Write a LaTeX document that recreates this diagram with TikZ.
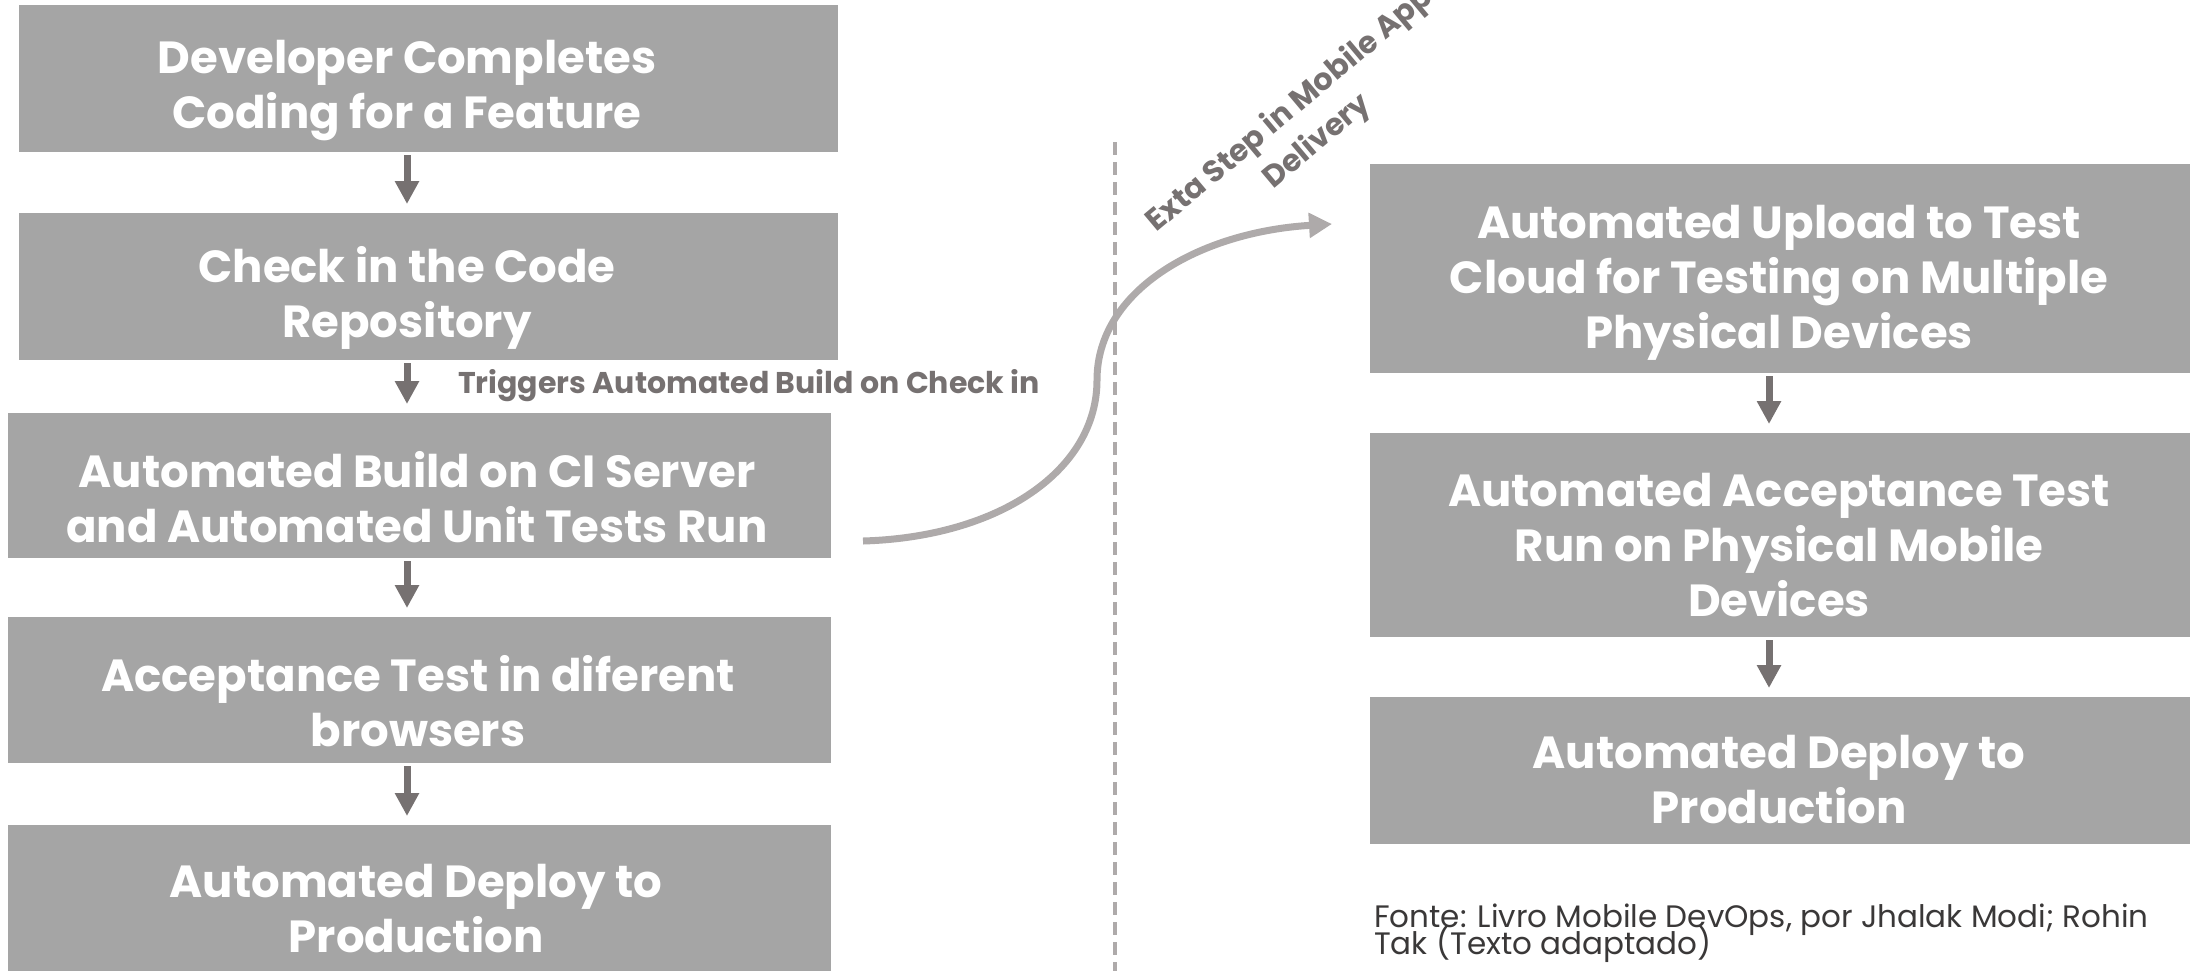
\documentclass[tikz,border=0pt]{standalone}
\usepackage{fontspec}
\setmainfont{Poppins}
\usetikzlibrary{arrows.meta}
\definecolor{boxgray}{HTML}{A5A5A5}
\definecolor{arrgray}{HTML}{767171}
\definecolor{curvegray}{HTML}{AEAAAA}
\definecolor{notegray}{HTML}{3A3838}
\setlength{\lineskiplimit}{-100pt}
\begin{document}
\begin{tikzpicture}[x=1pt,y=-1pt,
  boxshape/.style={fill=boxgray,draw=none,inner sep=0pt,outer sep=0pt,minimum width=#1},
  boxtext/.style={text=white,align=center,inner sep=0pt,
    font=\fontsize{45}{55}\selectfont\bfseries,
    execute at begin node=\strut, execute at end node=\strut},
  flowarrow/.style={draw=arrgray,line width=7pt,-{Triangle[width=23pt,length=23pt]},
    shorten <=3pt, shorten >=9pt},
  curvearrow/.style={draw=curvegray,line width=7pt,-{Triangle[width=24pt,length=23pt]}},
  dashline/.style={draw=curvegray,line width=4pt,dash pattern=on 13pt off 7pt},
  graylabel/.style={text=arrgray,inner sep=0pt,font=\fontsize{30}{36}\selectfont\bfseries},
]
\useasboundingbox (0,0) rectangle (2191,970);

% left column boxes
\node[boxshape=819pt,minimum height=147pt] (b1) at (428.5,78.5) {};
\node[boxshape=819pt,minimum height=147pt] (b2) at (428.5,286.5) {};
\node[boxshape=823pt,minimum height=145pt] (b3) at (419.5,485.5) {};
\node[boxshape=823pt,minimum height=146pt] (b4) at (419.5,690) {};
\node[boxshape=823pt,minimum height=147pt] (b5) at (419.5,898.5) {};

\node[boxtext] (t1) at (407,92.5) {Developer Completes\\Coding for a Feature};
\node[boxtext] (t2) at (407,300.5) {Check in the Code\\Repository};
\node[boxtext] (t3) at (417,505.5) {Automated Build on CI Server\\and Automated Unit Tests Run};
\node[boxtext] (t4) at (418,709.5) {Acceptance Test in diferent\\browsers};
\node[boxtext] (t5) at (416,916.5) {Automated Deploy to\\Production};

% right column boxes
\node[boxshape=820pt,minimum height=209pt] (r1) at (1780,268.5) {};
\node[boxshape=820pt,minimum height=204pt] (r2) at (1780,535) {};
\node[boxshape=820pt,minimum height=147pt] (r3) at (1780,770.5) {};

\node[boxtext] (s1) at (1779,285) {Automated Upload to Test\\Cloud for Testing on Multiple\\Physical Devices};
\node[boxtext] (s2) at (1779,553) {Automated Acceptance Test\\Run on Physical Mobile\\Devices};
\node[boxtext] (s3) at (1779,787.5) {Automated Deploy to\\Production};

% arrow axes
\coordinate (axL) at (407,0);
\coordinate (axR) at (1769,0);

\draw[flowarrow] (b1.south -| axL) -- (b2.north -| axL);
\draw[flowarrow] (b2.south -| axL) -- (b3.north -| axL);
\draw[flowarrow] (b3.south -| axL) -- (b4.north -| axL);
\draw[flowarrow] (b4.south -| axL) -- (b5.north -| axL);
\draw[flowarrow] (r1.south -| axR) -- (r2.north -| axR);
\draw[flowarrow] (r2.south -| axR) -- (r3.north -| axR);

% trigger label
\node[graylabel,anchor=base west] (trig) at (458,393) {Triggers Automated Build on Check in};

% dashed separator
\coordinate (dtop) at (1115,142);
\coordinate (dbot) at (1115,975);
\draw[dashline] (dtop) -- (dbot);

% curved arrow
\coordinate (cs) at (863,541);
\coordinate (ce) at (1332,224);
\draw[curvearrow] (cs) .. controls (1000,537) and (1097,470) .. (1097,380)
  .. controls (1097,290) and (1200,232) .. (ce);

\node[text=arrgray,align=center,inner sep=0pt,rotate=40,
  font=\fontsize{30.5}{42}\selectfont\bfseries] (extra) at (1304,126)
  {Exta Step in Mobile App\\Delivery};

% source note
\node[text=notegray,align=left,inner sep=0pt,anchor=base west,
  font=\fontsize{31}{27}\selectfont] (note) at (1374,954)
  {Fonte: Livro Mobile DevOps, por Jhalak Modi; Rohin\\Tak (Texto adaptado)};
\end{tikzpicture}
\end{document}
